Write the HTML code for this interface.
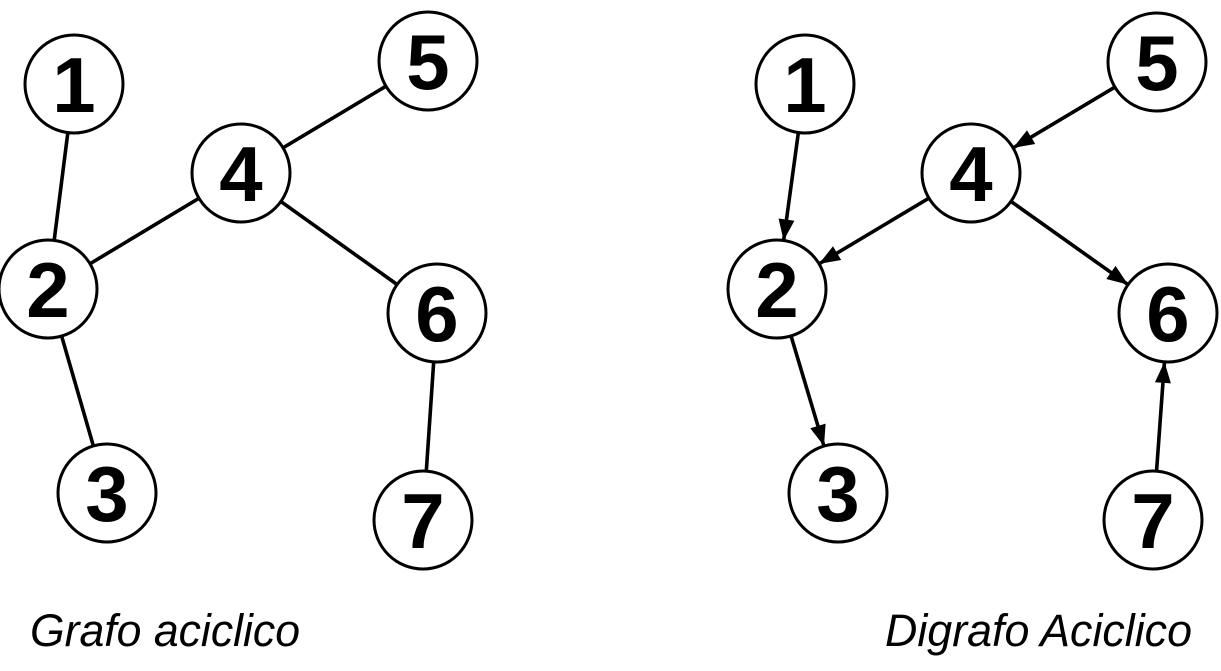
<!DOCTYPE html>
<html><head><meta charset="utf-8"><style>
html,body{margin:0;padding:0;background:#fff;width:1221px;height:671px;overflow:hidden}
svg{display:block}
</style></head><body>
<svg width="1221" height="671" viewBox="0 0 1221 671" xmlns="http://www.w3.org/2000/svg">
<defs>
<marker id="a" markerUnits="userSpaceOnUse" markerWidth="80" markerHeight="20" refX="70" refY="8" orient="auto" overflow="visible">
<path d="M0,0 L21,8 L0,16 z" fill="#000"/>
</marker>
</defs>
<g stroke="#000" stroke-width="3.6" fill="none">
<line x1="74" y1="84" x2="48" y2="289"/>
<line x1="241" y1="173" x2="48" y2="289"/>
<line x1="428" y1="61" x2="241" y2="173"/>
<line x1="241" y1="173" x2="437" y2="313"/>
<line x1="48" y1="289" x2="107" y2="493"/>
<line x1="437" y1="313" x2="423" y2="520"/>
<line x1="805" y1="84" x2="777" y2="289" marker-end="url(#a)"/>
<line x1="971" y1="173" x2="777" y2="289" marker-end="url(#a)"/>
<line x1="1157" y1="62" x2="971" y2="173" marker-end="url(#a)"/>
<line x1="971" y1="173" x2="1168" y2="313" marker-end="url(#a)"/>
<line x1="777" y1="289" x2="838" y2="493" marker-end="url(#a)"/>
<line x1="1153" y1="520" x2="1168" y2="313" marker-end="url(#a)"/>
</g>
<g stroke="#000" stroke-width="3" fill="#fff">
<circle cx="74" cy="84" r="49"/><circle cx="428" cy="61" r="49"/><circle cx="241" cy="173" r="49"/>
<circle cx="48" cy="289" r="49"/><circle cx="437" cy="313" r="49"/><circle cx="107" cy="493" r="49"/><circle cx="423" cy="520" r="49"/>
<circle cx="805" cy="84" r="49"/><circle cx="1157" cy="62" r="49"/><circle cx="971" cy="173" r="49"/>
<circle cx="777" cy="289" r="49"/><circle cx="1168" cy="313" r="49"/><circle cx="838" cy="493" r="49"/><circle cx="1153" cy="520" r="49"/>
</g>
<g font-family="Liberation Sans, sans-serif" font-weight="bold" font-size="78" text-anchor="middle" fill="#000">
<text x="74" y="112">1</text><text x="428" y="89">5</text><text x="241" y="201">4</text>
<text x="48" y="317">2</text><text x="437" y="341">6</text><text x="107" y="521">3</text><text x="423" y="548">7</text>
<text x="805" y="112">1</text><text x="1157" y="90">5</text><text x="971" y="201">4</text>
<text x="777" y="317">2</text><text x="1168" y="341">6</text><text x="838" y="521">3</text><text x="1153" y="548">7</text>
</g>
<g font-family="Liberation Sans, sans-serif" font-style="italic" font-size="45" fill="#000">
<text x="30" y="646" textLength="270" lengthAdjust="spacingAndGlyphs">Grafo aciclico</text>
<text x="885" y="646" textLength="307" lengthAdjust="spacingAndGlyphs">Digrafo Aciclico</text>
</g>
</svg>
</body></html>
